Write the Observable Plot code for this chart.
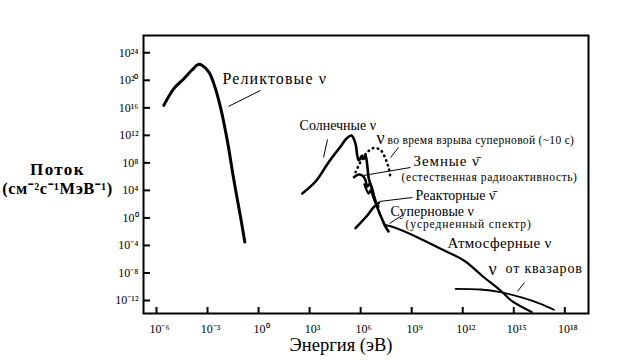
<!DOCTYPE html>
<html><head><meta charset="utf-8">
<script src="https://cdn.jsdelivr.net/npm/d3@7"></script>
<script src="https://cdn.jsdelivr.net/npm/@observablehq/plot@0.6"></script>
<style>
body{margin:0;background:#fff}
svg, svg text{font-family:"Liberation Serif","Times New Roman",serif !important}
</style>
</head><body><div id="chart"></div>
<script>
// tick exponents
const xTickExp = [-6, -3, 0, 3, 6, 9, 12, 15, 18];
const yTickExp = [24, 20, 16, 12, 8, 4, 0, -4, -8, -12];

// series: [log10 E (eV), log10 flux]
const relic = [[-5.57,16.35],[-4.98,18.78],[-4.39,20.23],[-3.9,21.53],[-3.55,22.3],[-3.31,22.16],[-2.92,21.18],[-2.63,19.5],[-2.24,16.1],[-1.84,11.27],[-1.45,5.47],[-1.06,0.14],[-0.81,-3.49]];
const solar = [[2.57,3.55],[3.35,5.29],[4.11,8.06],[4.82,10.38],[5.17,11.54],[5.46,11.98],[5.7,10.77],[5.8,9.07],[5.89,8.35],[6.09,9.07],[6.19,8.59],[6.29,9.07],[6.39,7.62],[6.48,5.69],[6.68,4.23],[6.87,2.28],[7.17,0.35],[7.46,-1.25],[7.64,-1.97]];
const geo = [[5.6,5.92],[5.89,6.31],[6.15,6.06],[6.29,5.44],[6.4,4.57],[6.55,5.0],[6.7,3.7],[6.87,2.53]];
const reactor = [[6.23,4.86],[6.47,3.55],[6.58,4.0],[6.82,2.53],[7.05,1.65]];
const snBurst = [[5.7,6.65],[5.99,8.1],[6.39,9.55],[6.77,10.16],[7.17,9.87],[7.46,8.59],[7.66,7.14],[7.76,5.69]];
const snRelic = [[5.7,-1.47],[6.39,0.35],[6.77,1.56],[7.07,2.2]];
const atmos = [[7.4,-1.03],[7.95,-1.35],[9.33,-2.8],[10.7,-4.49],[12.07,-6.19],[13.24,-8.62],[14.22,-10.55],[14.9,-12.1],[16.05,-13.67]];
const quasar = [[11.58,-10.3],[13.05,-10.4],[14.22,-10.8],[15.4,-11.52],[16.57,-12.48],[17.36,-13.35]];

// annotation leaders: [[logE1, logF1], [logE2, logF2]]
const leaders = [
  [[-1.77,16.2],[0.11,18.52]],
  [[4.05,11.4],[3.82,8.78]],
  [[7.76,8.78],[8.23,10.24]],
  [[6.17,6.17],[8.93,7.33]],
  [[7.11,2.39],[9.05,2.97]],
  [[7.70,-0.81],[8.52,0.5]],
  [[15.22,-10.69],[15.63,-9.39]]
];

// labels (anchor in data space)
const relicLabel = [{t: "Реликтовые ν", e: -2.12, f: 20.26}];
const solarLabel = [{t: "Солнечные ν", e: 2.41, f: 13.42}];
const geoLabel = [{t: "Земные ν̄", e: 9.11, f: 8.2}];
const reactorLabel = [{t: "Реакторные ν̄", e: 9.23, f: 3.26}];
const snLabel = [{t: "Суперновые ν", e: 7.76, f: 0.94}];
const atmosLabel = [{t: "Атмосферные ν", e: 11.11, f: -3.72}];
const nuSymbols = [{t: "ν", e: 6.93, f: 11.54}, {t: "ν", e: 13.52, f: -7.5}];
const burstNote = [{t: "во время взрыва суперновой (~10 с)", e: 7.58, f: 11.25}];
const geoNote = [{t: "(естественная радиоактивность)", e: 8.40, f: 5.88}];
const snNote = [{t: "(усредненный спектр)", e: 8.64, f: -0.95}];
const quasarNote = [{t: "от квазаров", e: 14.52, f: -7.35}];
const yTitle = ["Поток", "(см⁻²с⁻¹МэВ⁻¹)"];
const xTitle = "Энергия (эВ)";

const sup = s => String(s).replace(/-/g, "⁻").replace(/\d/g, d => "⁰¹²³⁴⁵⁶⁷⁸⁹"[d]);
const pts = a => a.map(([e, f]) => ({E: 10 ** e, F: 10 ** f}));
const P = v => 10 ** v;

const W = 624, H = 362, mL = 143, mR = 36, mT = 35, mB = 49;
const frameH = H - mT - mB, frameW = W - mL - mR;
const font = "Liberation Serif";

const lineOpts = (sw) => ({x: "E", y: "F", stroke: "black", strokeWidth: sw, curve: "catmull-rom", strokeLinejoin: "round", strokeLinecap: "round"});
const txt = (data, size) => Plot.text(data, {x: d => P(d.e), y: d => P(d.f), text: "t", textAnchor: "start", lineAnchor: "middle", fontSize: size, fontFamily: font, fill: "black"});

const chart = Plot.plot({
  width: W, height: H,
  marginLeft: mL, marginRight: mR, marginTop: mT, marginBottom: mB,
  style: {fontFamily: font, background: "white", color: "black"},
  x: {type: "log", domain: [P(-6.764), P(19.393)]},
  y: {type: "log", domain: [P(-13.89), P(26.51)]},
  marks: [
    Plot.line(pts(relic), lineOpts(3)),
    Plot.line(pts(solar), lineOpts(2.6)),
    Plot.line(pts(geo), lineOpts(2.4)),
    Plot.line(pts(reactor), lineOpts(2.4)),
    Plot.line(pts(snBurst), {...lineOpts(2.6), strokeDasharray: "0.5,4.5"}),
    Plot.line(pts(snRelic), lineOpts(2.6)),
    Plot.line(pts(atmos), lineOpts(2.2)),
    Plot.line(pts(quasar), lineOpts(1.8)),
    Plot.link(leaders, {x1: d => P(d[0][0]), y1: d => P(d[0][1]), x2: d => P(d[1][0]), y2: d => P(d[1][1]), stroke: "black", strokeWidth: 1}),
    txt(relicLabel, 16),
    txt(solarLabel, 14),
    txt(geoLabel, 15),
    txt(reactorLabel, 14),
    txt(snLabel, 14),
    txt(atmosLabel, 15),
    txt(nuSymbols, 18),
    txt(burstNote, 11.5),
    txt(geoNote, 11.5),
    txt(snNote, 11.5),
    txt(quasarNote, 14),
    Plot.tickX(xTickExp, {x: d => P(d), insetTop: frameH - 6, stroke: "black", strokeWidth: 2}),
    Plot.tickY(yTickExp, {y: d => P(d), insetRight: frameW - 7, stroke: "black", strokeWidth: 2}),
    Plot.axisX(xTickExp.map(P), {tickSize: 0, tickPadding: 11, tickFormat: d => "10" + sup(Math.round(Math.log10(d))), fontSize: 12, fontFamily: font, dx: 3, label: null}),
    Plot.axisY(yTickExp.map(P), {tickSize: 0, tickPadding: 5, tickFormat: d => "10" + sup(Math.round(Math.log10(d))), fontSize: 12, fontFamily: font, label: null}),
    Plot.frame({stroke: "black", strokeWidth: 2}),
    Plot.text([yTitle[0]], {frameAnchor: "left", dx: -86, dy: -5, textAnchor: "middle", fontSize: 17, fontFamily: font, fill: "black", fontWeight: "bold"}),
    Plot.text([yTitle[1]], {frameAnchor: "left", dx: -86, dy: 14, textAnchor: "middle", fontSize: 16.5, fontFamily: font, fill: "black", fontWeight: "bold"}),
    Plot.text([xTitle], {frameAnchor: "bottom", dx: -25, dy: 37, textAnchor: "middle", fontSize: 18.5, fontFamily: font, fill: "black"})
  ]
});

// letter spacing to match the wide lettering of the original
const spacing = new Map([
  [relicLabel[0].t, 1.1], [geoLabel[0].t, 0.9], [atmosLabel[0].t, 0.3],
  [burstNote[0].t, 0.33], [geoNote[0].t, 0.6], [snNote[0].t, 0.9],
  [quasarNote[0].t, 0.8], [yTitle[0], 1.4], [yTitle[1], 0.5]
]);
d3.select(chart).selectAll("text").each(function () {
  const s = spacing.get(this.textContent);
  if (s != null) this.style.letterSpacing = s + "px";
});
document.getElementById("chart").appendChild(chart);
</script>
</body></html>
